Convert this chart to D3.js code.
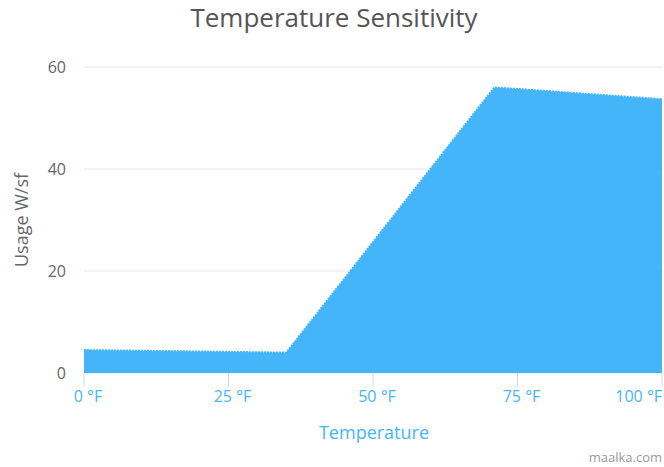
<!DOCTYPE html>
<html><head><meta charset="utf-8">
<script src="https://cdn.jsdelivr.net/npm/d3@7"></script>
<style>body{margin:0;background:#fff;} text{font-family:"Open Sans",sans-serif;}</style>
</head><body>
<svg id="c" width="664" height="467"></svg>
<script>
const temps = [0, 35, 71, 100];
const usage = [4.5, 4.0, 56, 53.7];
const xTicks = [0, 25, 50, 75, 100];
const yTicks = [0, 20, 40, 60];

const svg = d3.select("#c");
const x = d3.scaleLinear().domain([0, 100]).range([84, 662]);
const y = d3.scaleLinear().domain([0, 60]).range([373, 67]);
const blue = "#45b5fa";

// gridlines
svg.append("g").selectAll("line").data(yTicks).join("line")
  .attr("x1", 84).attr("x2", 663).attr("y1", d => y(d)).attr("y2", d => y(d))
  .attr("stroke", "#e6e6e6").attr("stroke-width", 1);

// y axis labels
svg.append("g").selectAll("text").data(yTicks).join("text")
  .attr("x", 66).attr("y", d => y(d) + 6).attr("text-anchor", "end")
  .attr("font-size", 16).attr("fill", "#666").text(d => d);

// x tick marks
svg.append("g").selectAll("line").data(xTicks).join("line")
  .attr("x1", d => x(d)).attr("x2", d => x(d)).attr("y1", 373).attr("y2", 386)
  .attr("stroke", "#ccd6eb").attr("stroke-width", 1);

// area
const data = temps.map((t, i) => ({t, v: usage[i]}));
svg.append("path").datum(data)
  .attr("d", d3.area().x(d => x(d.t)).y0(y(0)).y1(d => y(d.v)))
  .attr("fill", blue);
svg.append("path").datum(data)
  .attr("d", d3.line().x(d => x(d.t)).y(d => y(d.v)))
  .attr("fill", "none").attr("stroke", blue).attr("stroke-width", 2)
  .attr("stroke-dasharray", "2,1");

// x labels
svg.append("g").selectAll("text").data(xTicks).join("text")
  .attr("x", d => d === 100 ? 662 : x(d) + 4).attr("y", 402)
  .attr("text-anchor", d => d === 100 ? "end" : "middle")
  .attr("font-size", 16).attr("fill", blue).text(d => d + " °F");

// titles
svg.append("text").attr("x", 334).attr("y", 27).attr("text-anchor", "middle")
  .attr("font-size", 26).attr("fill", "#555").text("Temperature Sensitivity");
svg.append("text").attr("x", 374).attr("y", 439).attr("text-anchor", "middle")
  .attr("font-size", 18).attr("fill", blue).text("Temperature");
svg.append("text").attr("transform", "translate(28,220) rotate(-90)")
  .attr("text-anchor", "middle").attr("font-size", 18).attr("fill", "#666").text("Usage W/sf");
svg.append("text").attr("x", 662).attr("y", 462).attr("text-anchor", "end")
  .attr("font-size", 13).attr("fill", "#999").text("maalka.com");
</script>
</body></html>
